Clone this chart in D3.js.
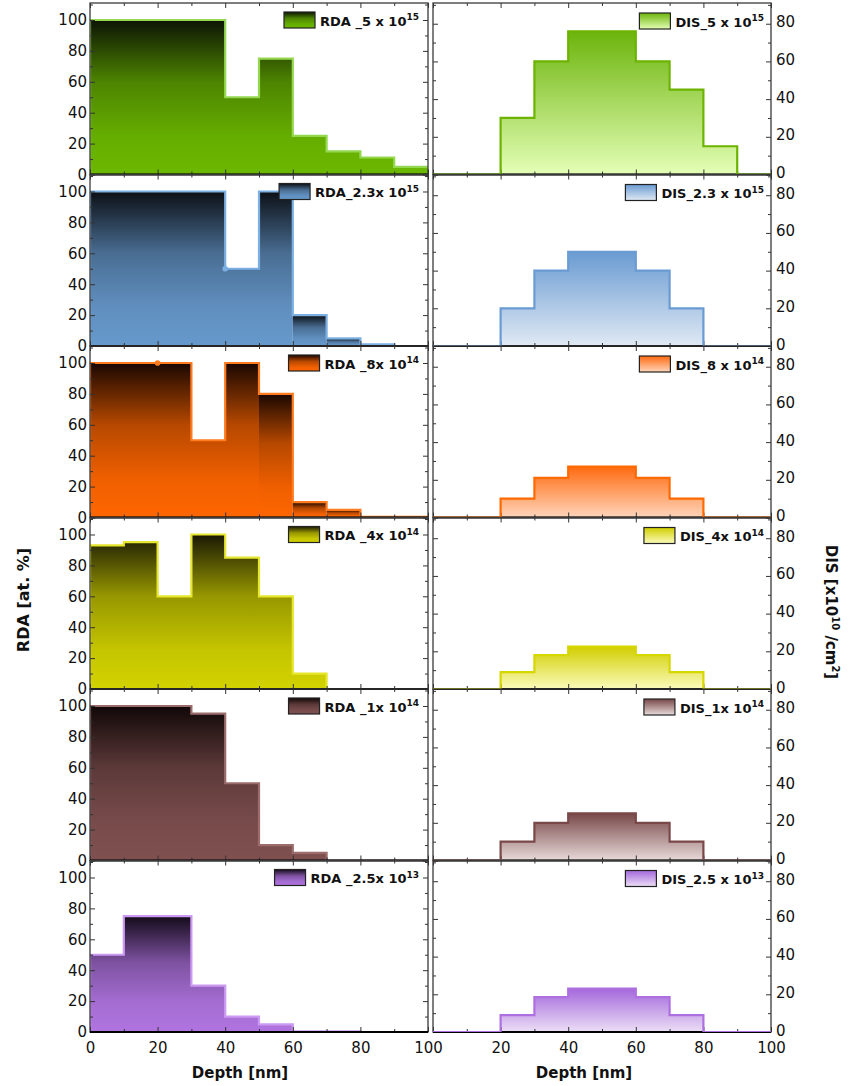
<!DOCTYPE html>
<html>
<head>
<meta charset="utf-8">
<script src="https://cdn.jsdelivr.net/npm/d3@7"></script>
<style>
  body { margin: 0; background: #fff; }
  text { font-family: "DejaVu Sans", "Liberation Sans", sans-serif; fill: #111; }
</style>
</head>
<body>
<svg id="chart" width="858" height="1086"></svg>
<script>
// Left edge of each 10 nm depth bin
const depthBins = [0, 10, 20, 30, 40, 50, 60, 70, 80, 90];

// RDA [at. %] per depth bin, one row per fluence
const rdaSeries = [
  [100, 100, 100, 100, 50, 75, 25, 15, 11, 5],
  [100, 100, 100, 100, 50, 100, 20, 5, 1, 0],
  [100, 100, 100, 50, 100, 80, 10, 5, 0.5, 0.5],
  [93, 95, 60, 100, 85, 60, 10, 0, 0, 0],
  [100, 100, 100, 95, 50, 10, 5, 0, 0, 0],
  [50, 75, 75, 30, 10, 5, 0.5, 0.5, 0, 0]
];

// DIS [x10^10 /cm^2] per depth bin
const disSeries = [
  [0, 0, 30, 60, 76, 76, 60, 45, 15, 0],
  [0, 0, 20, 40, 50, 50, 40, 20, 0, 0],
  [0, 0, 10, 21, 27, 27, 21, 10, 0, 0],
  [0, 0, 9, 18, 22.5, 22.5, 18, 9, 0, 0],
  [0, 0, 10, 20, 25, 25, 20, 10, 0, 0],
  [0, 0, 9, 18.5, 23, 23, 18.5, 9, 0, 0]
];

// Bin indices where a separately shaded RDA fill region starts
const rdaFillBreaks = [
  [0],
  [0, 6, 7, 8],
  [0, 5, 6, 7, 8],
  [0],
  [0],
  [0]
];

// Isolated data markers [depth, RDA]
const rdaMarkers = [[], [[40, 50]], [[20, 100]], [], [], []];

const rdaLabels = [
  ["RDA _5 x 10", "15"],
  ["RDA_2.3x 10", "15"],
  ["RDA _8x 10", "14"],
  ["RDA _4x 10", "14"],
  ["RDA _1x 10", "14"],
  ["RDA _2.5x 10", "13"]
];
const disLabels = [
  ["DIS_5 x 10", "15"],
  ["DIS_2.3 x 10", "15"],
  ["DIS_8 x 10", "14"],
  ["DIS_4x 10", "14"],
  ["DIS_1x 10", "14"],
  ["DIS_2.5 x 10", "13"]
];

const rdaTicks = [0, 20, 40, 60, 80, 100];
const rdaMinorTicks = [10, 30, 50, 70, 90, 110];
const disTicks = [0, 20, 40, 60, 80];
const disMinorTicks = [10, 30, 50, 70, 90];
const depthTicks = [0, 20, 40, 60, 80, 100];
const depthMinorTicks = [10, 30, 50, 70, 90];
const depthTicksRight = [20, 40, 60, 80, 100];

// Colours: [dark top, base colour, outline] for RDA; [top, bottom, outline] for DIS
const rdaColors = [
  ["#0c1404", "#6cb800", "#94d850"],
  ["#0c1016", "#6699cc", "#7cb0e2"],
  ["#1a0700", "#ff6600", "#ff7b1e"],
  ["#191904", "#d2d200", "#e6e62c"],
  ["#110707", "#805050", "#9c6c6c"],
  ["#140b1a", "#b074e0", "#cc9af2"]
];
const disColors = [
  ["#6cb40c", "#e4ffb6", "#6cb400"],
  ["#6a9bd2", "#e0e9f4", "#6a9bd2"],
  ["#ff6a10", "#ffd5bb", "#ff6a00"],
  ["#d2ce00", "#fbfbbc", "#d6d600"],
  ["#784848", "#e8dada", "#7a4848"],
  ["#a468dc", "#ecdef6", "#ae70e0"]
];

const svg = d3.select("#chart");
const defs = svg.append("defs");

const top0 = 3, panelH = 171.5;
const xL = d3.scaleLinear().domain([0, 100]).range([90, 428]);
const xR = d3.scaleLinear().domain([0, 100]).range([433, 771]);

function addGradient(id, stops) {
  const g = defs.append("linearGradient").attr("id", id)
    .attr("x1", 0).attr("y1", 0).attr("x2", 0).attr("y2", 1);
  stops.forEach(([o, c]) => g.append("stop").attr("offset", o).attr("stop-color", c));
}

function stepPoints(vals, start, end) {
  const pts = [];
  for (let i = start; i < end; i++) pts.push([depthBins[i], vals[i]]);
  const endX = end < depthBins.length ? depthBins[end] : 100;
  pts.push([endX, vals[end - 1]]);
  return pts;
}

function styleTicks(g) {
  g.select(".domain").remove();
  g.selectAll(".tick line").attr("stroke", "#333").attr("stroke-width", 1);
  g.selectAll(".tick text").attr("font-size", 15).attr("fill", "#222");
}

function frameAxes(pg, x, y, yMajor, yMinor, labelSide, xLabels) {
  const [xa, xb] = x.range();
  const [yb, ya] = y.range();
  const minors = yMinor.filter(v => v <= y.domain()[1]);
  // Vertical sides
  pg.append("g").attr("transform", `translate(${xa},0)`)
    .call(d3.axisLeft(y).tickValues(yMajor).tickSize(-5).tickPadding(3)
      .tickFormat(labelSide === "left" ? d3.format("d") : ""))
    .call(styleTicks);
  pg.append("g").attr("transform", `translate(${xa},0)`)
    .call(d3.axisLeft(y).tickValues(minors).tickSize(-3).tickFormat(""))
    .call(styleTicks);
  pg.append("g").attr("transform", `translate(${xb},0)`)
    .call(d3.axisRight(y).tickValues(yMajor).tickSize(-5).tickPadding(5)
      .tickFormat(labelSide === "right" ? d3.format("d") : ""))
    .call(styleTicks)
    .call(g => g.selectAll(".tick text").attr("dy", "0.2em"));
  pg.append("g").attr("transform", `translate(${xb},0)`)
    .call(d3.axisRight(y).tickValues(minors).tickSize(-3).tickFormat(""))
    .call(styleTicks);
  // Horizontal sides
  pg.append("g").attr("transform", `translate(0,${ya})`)
    .call(d3.axisTop(x).tickValues(depthTicks).tickSize(-5).tickFormat(""))
    .call(styleTicks);
  pg.append("g").attr("transform", `translate(0,${ya})`)
    .call(d3.axisTop(x).tickValues(depthMinorTicks).tickSize(-3).tickFormat(""))
    .call(styleTicks);
  const bottom = d3.axisBottom(x).tickSize(-5).tickPadding(10.5).tickValues(depthTicks);
  if (xLabels) bottom.tickFormat(v => xLabels.includes(v) ? v : "");
  else bottom.tickFormat("");
  pg.append("g").attr("transform", `translate(0,${yb})`).call(bottom).call(styleTicks);
  pg.append("g").attr("transform", `translate(0,${yb})`)
    .call(d3.axisBottom(x).tickValues(depthMinorTicks).tickSize(-3).tickFormat(""))
    .call(styleTicks);
  // Frame
  pg.append("rect").attr("x", xa).attr("y", ya).attr("width", xb - xa).attr("height", yb - ya)
    .attr("fill", "none").attr("stroke", "#3a3a3a").attr("stroke-width", 1.3);
  pg.append("line").attr("x1", xa).attr("x2", xb).attr("y1", yb).attr("y2", yb)
    .attr("stroke", "#000").attr("stroke-width", 2);
}

function legend(pg, xRight, yTop, label, fillId) {
  const t = pg.append("text").attr("font-weight", "bold").attr("font-size", 13)
    .attr("y", yTop + 13.5);
  t.append("tspan").text(label[0]);
  t.append("tspan").attr("font-size", 9).attr("dy", -5.5).text(label[1]);
  const w = t.node().getComputedTextLength();
  t.attr("x", xRight - w);
  pg.append("rect").attr("x", xRight - w - 36).attr("y", yTop)
    .attr("width", 31).attr("height", 16)
    .attr("fill", `url(#${fillId})`).attr("stroke", "#222").attr("stroke-width", 1.2);
}

for (let i = 0; i < rdaSeries.length; i++) {
  const y0 = top0 + i * panelH, y1 = y0 + panelH;
  const yL = d3.scaleLinear().domain([0, 111]).range([y1, y0]);
  const yR = d3.scaleLinear().domain([0, 91]).range([y1, y0]);
  const last = i === rdaSeries.length - 1;

  const [dark, base, rdaLine] = rdaColors[i];
  const [disTop, disBottom, disLine] = disColors[i];
  const mix = d3.interpolateRgb(dark, base);
  addGradient(`rdaFill${i}`, [[0, dark], [0.4, mix(0.68)], [0.75, mix(0.93)], [1, base]]);
  addGradient(`disFill${i}`, [[0, disTop], [1, disBottom]]);

  // ---- RDA panel ----
  const gl = svg.append("g");
  defs.append("clipPath").attr("id", `clipL${i}`).append("rect")
    .attr("x", xL.range()[0]).attr("y", y0)
    .attr("width", xL.range()[1] - xL.range()[0]).attr("height", panelH);
  const plotL = gl.append("g").attr("clip-path", `url(#clipL${i})`);

  const areaL = d3.area().x(d => xL(d[0])).y0(yL(0)).y1(d => yL(d[1])).curve(d3.curveStepAfter);
  const breaks = rdaFillBreaks[i];
  breaks.forEach((s, k) => {
    const e = k + 1 < breaks.length ? breaks[k + 1] : rdaSeries[i].length;
    plotL.append("path").attr("d", areaL(stepPoints(rdaSeries[i], s, e)))
      .attr("fill", `url(#rdaFill${i})`);
  });
  const lineL = d3.line().x(d => xL(d[0])).y(d => yL(d[1])).curve(d3.curveStepAfter);
  plotL.append("path")
    .attr("d", lineL([[0, 0]].concat(stepPoints(rdaSeries[i], 0, rdaSeries[i].length))))
    .attr("fill", "none").attr("stroke", rdaLine).attr("stroke-width", 2.2)
    .attr("stroke-linejoin", "miter");
  rdaMarkers[i].forEach(([dx, dv]) => {
    plotL.append("circle").attr("cx", xL(dx)).attr("cy", yL(dv)).attr("r", 2.8)
      .attr("fill", rdaLine);
  });
  frameAxes(gl, xL, yL, rdaTicks, rdaMinorTicks, "left", last ? depthTicks : null);
  legend(gl, xL.range()[1] - 9, y0 + 9, rdaLabels[i], `rdaFill${i}`);

  // ---- DIS panel ----
  const gr = svg.append("g");
  defs.append("clipPath").attr("id", `clipR${i}`).append("rect")
    .attr("x", xR.range()[0]).attr("y", y0)
    .attr("width", xR.range()[1] - xR.range()[0]).attr("height", panelH);
  const plotR = gr.append("g").attr("clip-path", `url(#clipR${i})`);
  const areaR = d3.area().x(d => xR(d[0])).y0(yR(0)).y1(d => yR(d[1])).curve(d3.curveStepAfter);
  const disPts = stepPoints(disSeries[i], 0, disSeries[i].length);
  plotR.append("path").attr("d", areaR(disPts)).attr("fill", `url(#disFill${i})`);
  frameAxes(gr, xR, yR, disTicks, disMinorTicks, "right", last ? depthTicksRight : null);
  const lineR = d3.line().x(d => xR(d[0])).y(d => yR(d[1])).curve(d3.curveStepAfter);
  gr.append("g").attr("clip-path", `url(#clipR${i})`).append("path")
    .attr("d", lineR([[0, 0]].concat(disPts)))
    .attr("fill", "none").attr("stroke", disLine).attr("stroke-width", 2.2);
  legend(gr, xR.range()[1] - 7, y0 + 10, disLabels[i], `disFill${i}`);
}

// Axis titles
svg.append("text").attr("transform", "translate(29,600) rotate(-90)")
  .attr("text-anchor", "middle").attr("font-weight", "bold").attr("font-size", 16)
  .text("RDA [at. %]");

const disTitle = svg.append("text").attr("transform", "translate(826,612) rotate(90)")
  .attr("text-anchor", "middle").attr("font-weight", "bold").attr("font-size", 15);
disTitle.append("tspan").text("DIS [x10");
disTitle.append("tspan").attr("font-size", 10).attr("dy", -6).text("10");
disTitle.append("tspan").attr("dy", 6).text(" /cm");
disTitle.append("tspan").attr("font-size", 10).attr("dy", -6).text("2");
disTitle.append("tspan").attr("dy", 6).text("]");

svg.append("text").attr("x", 240).attr("y", 1078).attr("text-anchor", "middle")
  .attr("font-weight", "bold").attr("font-size", 15).text("Depth [nm]");
svg.append("text").attr("x", 584).attr("y", 1078).attr("text-anchor", "middle")
  .attr("font-weight", "bold").attr("font-size", 15).text("Depth [nm]");
</script>
</body>
</html>
